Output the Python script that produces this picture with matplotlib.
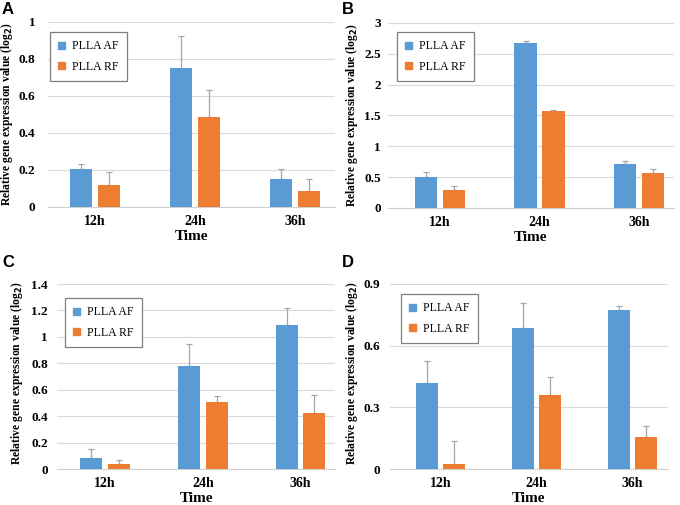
import matplotlib
matplotlib.use("Agg")
import matplotlib.pyplot as plt
import numpy as np
from matplotlib.patches import Patch

times = ["12h", "24h", "36h"]
series_names = ["PLLA AF", "PLLA RF"]

A_af = [0.205, 0.75, 0.153]
A_af_err = [0.03, 0.175, 0.052]
A_rf = [0.12, 0.487, 0.085]
A_rf_err = [0.07, 0.146, 0.065]

B_af = [0.51, 2.68, 0.71]
B_af_err = [0.075, 0.03, 0.05]
B_rf = [0.29, 1.57, 0.575]
B_rf_err = [0.06, 0.025, 0.05]

C_af = [0.081, 0.778, 1.087]
C_af_err = [0.068, 0.167, 0.129]
C_rf = [0.035, 0.51, 0.422]
C_rf_err = [0.031, 0.043, 0.136]

D_af = [0.416, 0.684, 0.773]
D_af_err = [0.11, 0.123, 0.02]
D_rf = [0.023, 0.361, 0.158]
D_rf_err = [0.112, 0.086, 0.052]

W, H = 680, 505
fig = plt.figure(figsize=(6.8, 5.05), dpi=100)

BLUE = "#5B9BD5"
ORANGE = "#ED7D31"
SERIF = "Liberation Serif"

panels = [
    dict(letter="A", af=A_af, afe=A_af_err, rf=A_rf, rfe=A_rf_err,
         box=(48, 22, 335, 207), xlim=(-0.47, 2.4), ylim=(0, 1),
         yticks=[0, 0.2, 0.4, 0.6, 0.8, 1], ylab=["0", "0.2", "0.4", "0.6", "0.8", "1"],
         leg=(50, 32), letterpos=(2, 2), ylx=15, yly=114.5, ypad=9),
    dict(letter="B", af=B_af, afe=B_af_err, rf=B_rf, rfe=B_rf_err,
         box=(388, 23, 674, 208), xlim=(-0.52, 2.35), ylim=(0, 3),
         yticks=[0, 0.5, 1, 1.5, 2, 2.5, 3], ylab=["0", "0.5", "1", "1.5", "2", "2.5", "3"],
         leg=(397, 32), letterpos=(342, 2), ylx=360, yly=115, ypad=5),
    dict(letter="C", af=C_af, afe=C_af_err, rf=C_rf, rfe=C_rf_err,
         box=(57, 284, 335, 469), xlim=(-0.49, 2.35), ylim=(0, 1.4),
         yticks=[0, 0.2, 0.4, 0.6, 0.8, 1, 1.2, 1.4],
         ylab=["0", "0.2", "0.4", "0.6", "0.8", "1", "1.2", "1.4"],
         leg=(65, 298), letterpos=(2, 255), ylx=25, yly=373, ypad=6.5),
    dict(letter="D", af=D_af, afe=D_af_err, rf=D_rf, rfe=D_rf_err,
         box=(390, 284, 668, 469), xlim=(-0.526, 2.37), ylim=(0, 0.9),
         yticks=[0, 0.3, 0.6, 0.9], ylab=["0", "0.3", "0.6", "0.9"],
         leg=(401, 294), letterpos=(342, 255), ylx=360, yly=373, ypad=7),
]

x = np.arange(len(times))
bw = 0.225
off = 0.14

for p in panels:
    l, t, r, b = p["box"]
    ax = fig.add_axes([l / W, 1 - b / H, (r - l) / W, (b - t) / H])
    ax.bar(x - off, p["af"], bw, color=BLUE, zorder=3)
    ax.bar(x + off, p["rf"], bw, color=ORANGE, zorder=3)
    ax.errorbar(x - off, p["af"], yerr=[np.zeros(3), p["afe"]], fmt="none",
                ecolor="#A6A6A6", elinewidth=0.9, capsize=2, capthick=0.9, zorder=2)
    ax.errorbar(x + off, p["rf"], yerr=[np.zeros(3), p["rfe"]], fmt="none",
                ecolor="#A6A6A6", elinewidth=0.9, capsize=2, capthick=0.9, zorder=2)
    ax.set_xlim(*p["xlim"])
    ax.set_ylim(*p["ylim"])
    ax.set_yticks(p["yticks"])
    ax.set_yticklabels(p["ylab"], fontfamily=SERIF, fontweight="bold", fontsize=9.5)
    ax.set_xticks(x)
    ax.set_xticklabels(times, fontfamily=SERIF, fontweight="bold", fontsize=10)
    ax.tick_params(axis="y", length=0, pad=p["ypad"])
    ax.tick_params(axis="x", length=0, pad=6)
    ax.grid(axis="y", color="#D9D9D9", linewidth=0.8, zorder=0)
    for s in ["top", "right", "left"]:
        ax.spines[s].set_visible(False)
    ax.spines["bottom"].set_color("#D0D0D0")
    ax.spines["bottom"].set_linewidth(0.8)
    ax.set_xlabel("Time", fontfamily=SERIF, fontweight="bold", fontsize=11, labelpad=1)
    ax.set_ylabel("Relative gene expression value (log$_\\mathbf{2}$)", fontfamily=SERIF,
                  fontweight="bold", fontsize=8.4)
    ax.yaxis.set_label_coords((p["ylx"] - l) / (r - l), (b - p["yly"]) / (b - t))
    handles = [Patch(color=BLUE), Patch(color=ORANGE)]
    lx, ly = p["leg"]
    leg = ax.legend(handles, series_names, loc="upper left",
                    bbox_to_anchor=(lx / W, 1 - ly / H), bbox_transform=fig.transFigure,
                    prop=dict(family=SERIF, size=8.5), handlelength=0.55, handleheight=0.55,
                    handletextpad=0.6, borderpad=0.7, labelspacing=0.7, fancybox=False,
                    framealpha=1, borderaxespad=0)
    leg.get_frame().set_edgecolor("#7F7F7F")
    leg.get_frame().set_linewidth(0.9)
    fx, fy = p["letterpos"]
    fig.text(fx / W, 1 - fy / H, p["letter"], fontfamily="Liberation Sans",
             fontweight="bold", fontsize=12, va="top", ha="left")

fig.savefig("out.png", dpi=100)
